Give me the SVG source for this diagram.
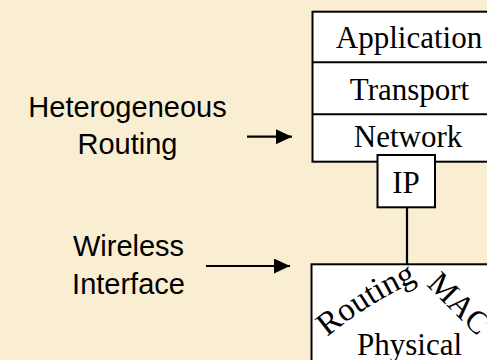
<svg xmlns="http://www.w3.org/2000/svg" width="487" height="360" viewBox="0 0 487 360">
  <style>
    .box { fill: #ffffff; stroke: #000000; stroke-width: 2; }
    .serif { font-family: "Liberation Serif", "Times New Roman", serif; font-size: 31px; fill: #000000; }
    .sans { font-family: "Liberation Sans", Arial, sans-serif; font-size: 29px; fill: #000000; text-anchor: middle; }
    .mid { text-anchor: middle; }
    .wire { stroke: #000000; stroke-width: 2.2; fill: none; }
  </style>
  <defs>
    <marker id="arrowhead" viewBox="0 0 16 15" refX="16" refY="7.5" markerWidth="16" markerHeight="15" markerUnits="userSpaceOnUse" orient="auto">
      <path d="M0,0 L16,7.5 L0,15 Z" fill="#000000"/>
    </marker>
    <path id="routingArc" d="M327,337 A400,400 0 0 1 417,281"/>
  </defs>

  <rect width="487" height="360" fill="#faeed2"/>

  <!-- connectors -->
  <g id="connectors">
    <line class="wire" x1="247" y1="136.7" x2="292" y2="136.7" marker-end="url(#arrowhead)"/>
    <line class="wire" x1="206" y1="266" x2="290" y2="266" marker-end="url(#arrowhead)"/>
    <line class="wire" x1="407" y1="207" x2="407" y2="264"/>
  </g>

  <!-- labels on the left -->
  <g id="label-routing">
    <text class="sans" x="127.5" y="116.7">Heterogeneous</text>
    <text class="sans" x="127.5" y="154">Routing</text>
  </g>
  <g id="label-wireless">
    <text class="sans" x="128.5" y="256">Wireless</text>
    <text class="sans" x="128.5" y="294.3">Interface</text>
  </g>

  <!-- protocol stack -->
  <g id="stack">
    <rect class="box" x="312.5" y="11.7" width="195" height="150"/>
    <line class="wire" x1="312.5" y1="62.3" x2="507.5" y2="62.3" style="stroke-width:2"/>
    <line class="wire" x1="312.5" y1="114.3" x2="507.5" y2="114.3" style="stroke-width:2"/>
    <text class="serif mid" x="409" y="48">Application</text>
    <text class="serif mid" x="409.5" y="100">Transport</text>
    <text class="serif mid" x="408" y="146.7">Network</text>
  </g>

  <g id="ip">
    <rect class="box" x="377.5" y="155" width="57.5" height="52.3"/>
    <text class="serif mid" x="406" y="192.7">IP</text>
  </g>

  <!-- wireless interface block -->
  <g id="interface">
    <rect class="box" x="311.5" y="264.3" width="196" height="120"/>
    <text class="serif" style="font-size:33px"><textPath href="#routingArc">Routing</textPath></text>
    <text class="serif" style="font-size:32px" transform="translate(426,285) rotate(45)">MAC</text>
    <text class="serif mid" x="409.5" y="355">Physical</text>
  </g>
</svg>
